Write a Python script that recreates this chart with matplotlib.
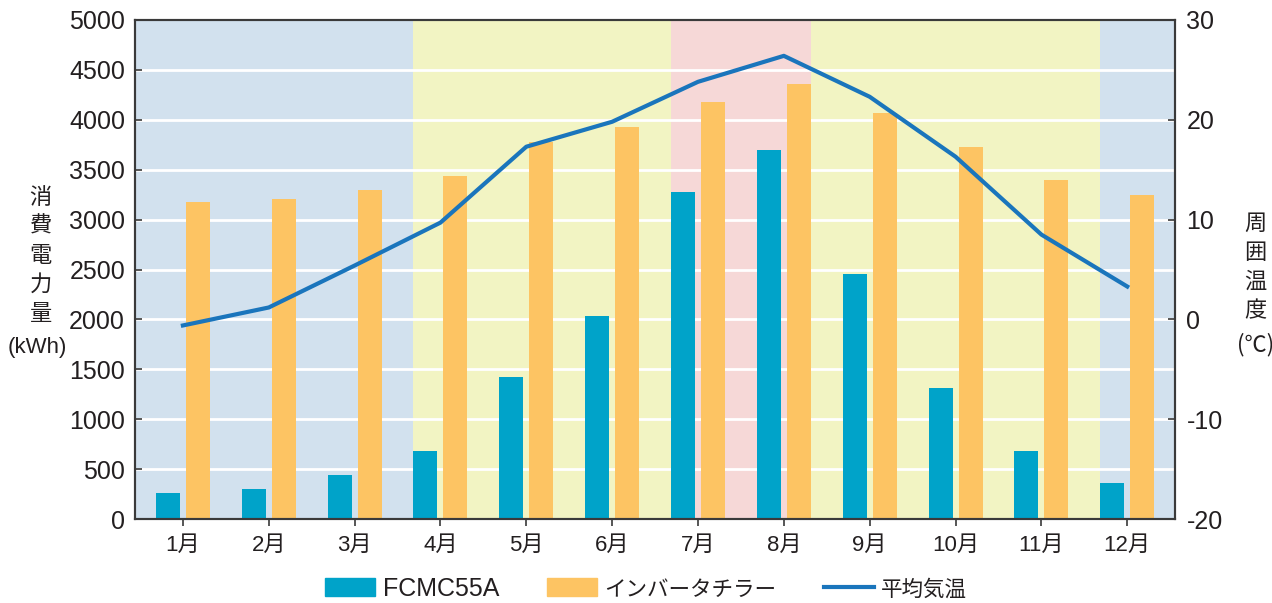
import matplotlib.pyplot as plt
import matplotlib.patches as mpatches
from matplotlib.lines import Line2D
import numpy as np

plt.rcParams['font.family'] = ['Liberation Sans', 'Noto Sans CJK JP']
plt.rcParams['axes.unicode_minus'] = False

# data
months = ['1月', '2月', '3月', '4月', '5月', '6月', '7月', '8月', '9月', '10月', '11月', '12月']
fcmc = [260, 300, 440, 680, 1420, 2035, 3275, 3700, 2455, 1310, 680, 360]
inverter = [3175, 3205, 3295, 3435, 3780, 3930, 4180, 4360, 4070, 3730, 3400, 3245]
temp = [-0.6, 1.2, 5.4, 9.7, 17.3, 19.8, 23.8, 26.4, 22.3, 16.3, 8.5, 3.3]

teal = '#00a3c9'
orange = '#fdc463'
line_c = '#1a75bc'

fig = plt.figure(figsize=(12.72, 6.03), dpi=100)
ax = fig.add_axes([0.106, 0.139, 0.818, 0.828])
ax2 = ax.twinx()

x = np.arange(len(months))
w = 0.28
off = 0.175

# season background bands
xl, xr = -0.56, 11.56
ax.axvspan(xl, 3 - off - w / 2, color='#d2e1ee', zorder=0, lw=0)
ax.axvspan(3 - off - w / 2, 6 - off - w / 2, color='#f2f4c3', zorder=0, lw=0)
ax.axvspan(6 - off - w / 2, 7 + off + w / 2, color='#f6d8d7', zorder=0, lw=0)
ax.axvspan(7 + off + w / 2, 11 - off - w / 2, color='#f2f4c3', zorder=0, lw=0)
ax.axvspan(11 - off - w / 2, xr, color='#d2e1ee', zorder=0, lw=0)

for v in range(500, 5000, 500):
    ax.axhline(v, color='white', lw=2, zorder=1)

ax.bar(x - off, fcmc, w, color=teal, zorder=2)
ax.bar(x + off, inverter, w, color=orange, zorder=2)
ax2.plot(x, temp, color=line_c, lw=3, zorder=3)

ax.set_xlim(xl, xr)
ax.set_ylim(0, 5000)
ax2.set_ylim(-20, 30)
ax.set_yticks(range(0, 5001, 500))
ax2.set_yticks(range(-20, 31, 10))
ax.set_xticks(x)
ax.set_xticklabels(months)

for a in (ax, ax2):
    for s in a.spines.values():
        s.set_color('#3a3a3a')
        s.set_linewidth(1.5)
ax.tick_params(axis='y', direction='in', length=5, width=1.2, labelsize=18, colors='#3a3a3a',
               labelcolor='#231f20', pad=7)
ax.tick_params(axis='x', direction='out', length=5, width=1.2, labelsize=16, colors='#3a3a3a',
               labelcolor='#231f20', pad=6)
ax2.tick_params(axis='y', direction='in', length=5, width=1.2, labelsize=18, colors='#3a3a3a',
                labelcolor='#231f20', pad=8)

fig.text(0.032, 0.575, '消\n費\n電\n力\n量', ha='center', va='center', fontsize=16,
         linespacing=1.5, color='#231f20')
fig.text(0.029, 0.423, '(kWh)', ha='center', va='center', fontsize=16, color='#231f20')
fig.text(0.987, 0.556, '周\n囲\n温\n度', ha='center', va='center', fontsize=16,
         linespacing=1.5, color='#231f20')
fig.text(0.987, 0.428, '(℃)', ha='center', va='center', fontsize=16, color='#231f20',
         family=['Noto Sans CJK JP', 'DejaVu Sans'])

handles = [mpatches.Patch(color=teal, label='FCMC55A'),
           mpatches.Patch(color=orange, label='インバータチラー'),
           Line2D([0], [0], color=line_c, lw=3, label='平均気温')]
leg = fig.legend(handles=handles, loc='lower center', bbox_to_anchor=(0.508, -0.034), ncol=3,
                 frameon=False, fontsize=18, handlelength=2.0, handleheight=0.75,
                 handletextpad=0.3, columnspacing=1.9, labelcolor='#231f20')
# the Japanese labels render wider, shrink them a bit
leg.get_texts()[1].set_fontsize(15.5)
leg.get_texts()[2].set_fontsize(15.5)

fig.savefig('out.png', dpi=100)
